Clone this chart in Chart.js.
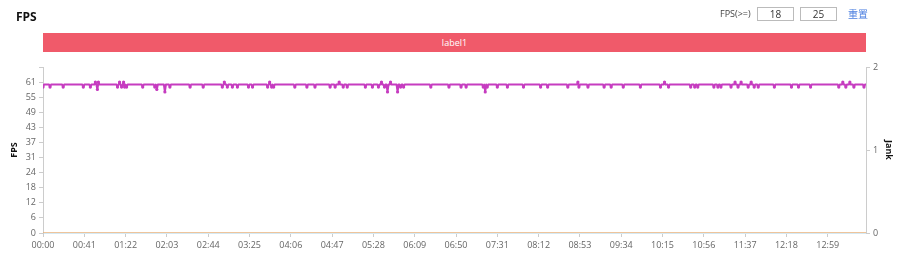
<!DOCTYPE html>
<html><head><meta charset="utf-8">
<script src="https://cdn.jsdelivr.net/npm/chart.js@4.4.0/dist/chart.umd.min.js"></script>
<style>
body{margin:0;background:#fff;font-family:"Open Sans","Noto Sans CJK SC",sans-serif;}
#wrap{position:relative;width:900px;height:254px;overflow:hidden;background:#fff;}
#c{position:absolute;left:0;top:0;}
#title{position:absolute;left:16px;top:9px;font-size:12px;font-weight:bold;color:#111;line-height:16px;}
#bar{position:absolute;left:43px;top:33px;width:823px;height:19px;background:#f05a6a;color:#fff;font-size:9px;line-height:19px;text-align:center;}
#ctrl{position:absolute;left:720px;top:7px;height:14px;font-size:9px;color:#444;}
#ctrl span.l{position:absolute;left:0;top:0;line-height:14px;white-space:nowrap;}
#ctrl .box{position:absolute;top:0;width:35px;height:12px;border:1px solid #bbb;font-size:10px;line-height:12px;text-align:center;color:#333;}
#ctrl a{position:absolute;left:128px;top:0;line-height:14px;color:#4a7ee0;font-size:10px;white-space:nowrap;text-decoration:none;font-family:"Noto Sans CJK SC",sans-serif;}
</style></head>
<body><div id="wrap">
<canvas id="c" width="900" height="254"></canvas>
<div id="title">FPS</div>
<div id="bar">label1</div>
<div id="ctrl"><span class="l">FPS(&gt;=)</span><div class="box" style="left:37px">18</div><div class="box" style="left:80px">25</div><a>重置</a></div>
</div>
<script>
// FPS value per second (index = seconds since start)
const fpsValues = [
59,60,60,60,60,60,60,59,60,60, 60,60,60,60,60,60,60,60,60,60, 59,60,60,60,60,60,60,60,60,60, 60,60,60,60,60,60,60,60,60,60, 59,
60,60,60,60,60,60,59,60,60,60, 60,61,60,58,61,60,60,60,60,60, 60,60,60,60,60,60,60,60,60,60, 60,60,60,59,60,61,60,59,60,61, 59,
60,59,60,60,60,60,60,60,60,60, 60,60,60,60,60,60,60,59,60,60, 60,60,60,60,60,60,60,60,60,59, 60,58,60,60,60,60,60,60,60,57, 60,
60,60,60,59,60,60,60,60,60,60, 60,60,60,60,60,60,60,60,60,60, 60,60,60,59,60,60,60,60,60,60, 60,60,60,60,60,60,59,60,60,60, 60,
60,60,60,60,60,60,60,60,60,60, 60,60,60,60,59,60,61,60,60,59, 60,60,60,60,59,60,60,60,60,59, 60,60,60,60,60,60,60,60,60,60, 59,
60,60,60,59,60,60,60,60,60,60, 60,60,60,60,60,60,60,60,59,60, 61,60,59,60,59,60,60,60,60,60, 60,60,60,60,60,60,60,60,60,60, 60,
60,60,60,60,59,60,60,60,60,60, 60,60,60,60,60,60,59,60,60,60, 60,60,60,60,59,60,60,60,60,60, 60,60,60,60,60,60,60,60,60,59, 60,
60,60,60,59,60,60,60,61,60,60, 60,59,60,60,60,59,60,60,60,60, 60,60,60,60,60,60,60,60,60,60, 60,60,60,59,60,60,60,60,60,60, 59,
60,60,60,60,60,59,60,60,61,60, 60,59,60,60,57,60,60,61,60,60, 60,60,60,60,57,60,60,59,60,60, 59,60,60,60,60,60,60,60,60,60, 60,
60,60,60,60,60,60,60,60,60,60, 60,60,60,60,60,60,59,60,60,60, 60,60,60,60,60,60,60,60,60,60, 60,60,60,60,59,60,60,60,60,60, 60,
60,60,60,60,60,59,60,60,60,60, 59,60,60,60,60,60,60,60,60,60, 60,60,60,60,60,60,60,59,60,57, 60,59,60,60,60,60,60,60,60,60, 60,
59,60,60,60,60,60,60,60,60,60, 59,60,60,60,60,60,60,60,60,60, 60,60,60,60,60,60,59,60,60,60, 60,60,60,60,60,60,60,60,60,60, 60,
60,60,59,60,60,60,60,60,60,59, 60,60,60,60,60,60,60,60,60,60, 60,60,60,60,60,60,60,60,60,59, 60,60,60,60,60,60,60,60,60,61, 59,
60,60,60,60,60,60,60,60,59,60, 60,60,60,60,60,60,60,60,60,60, 60,60,60,60,59,60,60,60,60,60, 60,59,60,60,60,60,60,60,60,60, 60,
60,60,59,60,60,60,60,60,60,60, 60,60,60,60,60,60,60,60,60,59, 60,60,60,60,60,60,60,60,60,60, 60,60,60,60,60,60,60,60,60,59, 60,
60,60,61,60,60,60,59,60,60,60, 60,60,60,60,60,60,60,60,60,60, 60,60,60,60,60,60,60,60,59,60, 60,60,59,60,60,59,60,60,60,60, 60,
60,60,60,60,60,60,60,60,60,60, 59,60,60,60,59,60,60,59,60,60, 60,60,60,60,60,60,60,59,60,60, 60,61,60,60,59,60,60,61,60,60, 60,
60,60,60,59,60,60,61,60,60,59, 60,60,60,59,60,60,60,60,60,60, 60,60,60,60,60,60,60,60,60,59, 60,60,60,60,60,60,60,60,60,60, 60,
60,60,60,60,60,59,60,60,60,60, 60,60,59,60,60,60,60,60,60,60, 60,60,60,60,59,60,60,60,60,60, 60,60,60,60,60,60,60,60,60,60, 60,
60,60,60,60,60,60,60,60,60,60, 60,59,60,60,60,61,60,60,59,60, 60,60,61,60,60,60,59,60,60,60, 60,60,60,60,60,60,59,60,60
];
// Jank (right axis): zero for the whole run
const jankSeconds = [0, 817];
const jankValues = [0, 0];
// x tick labels, one every 41 seconds
const timeTickSeconds = [0,41,82,123,164,205,246,287,328,369,410,451,492,533,574,615,656,697,738,779];
const timeTickLabels = ["00:00","00:41","01:22","02:03","02:44","03:25","04:06","04:47","05:28","06:09","06:50","07:31","08:12","08:53","09:34","10:15","10:56","11:37","12:18","12:59"];
// left axis ticks
const fpsTickValues = [0,6.1,12.2,18.3,24.4,30.5,36.6,42.7,48.8,54.9,61,67.1];
const fpsTickLabels = ["0","6","12","18","24","31","37","43","49","55","61",""];
const jankTickValues = [0,1,2];
const jankTickLabels = ["0","1","2"];

const fpsPoints = fpsValues.map((v,i)=>({x:i,y:v}));
const jankPoints = jankSeconds.map((s,i)=>({x:s,y:jankValues[i]}));

const tickFont = {family:"'Open Sans', sans-serif", size:9};
const axisColor = '#cccccc';
const lineColor = '#c63cc0';

new Chart(document.getElementById('c'), {
  type:'line',
  data:{datasets:[
    {label:'FPS', data:fpsPoints, yAxisID:'y', borderColor:lineColor, borderWidth:2, borderJoinStyle:'round',
      pointRadius:ctx=>(ctx.raw && ctx.raw.y!==60 ? 1.6 : 0), pointBackgroundColor:lineColor, pointBorderWidth:0, tension:0},
    {label:'Jank', data:jankPoints, yAxisID:'y1', borderColor:'#e9b07a', borderWidth:1.5, pointRadius:0, tension:0}
  ]},
  options:{
    responsive:false, animation:false, devicePixelRatio:1,
    layout:{padding:{top:67,left:0,right:0,bottom:0}},
    plugins:{legend:{display:false}, tooltip:{enabled:false}},
    scales:{
      x:{type:'linear', min:0, max:817,
        afterBuildTicks:s=>{s.ticks=timeTickSeconds.map(v=>({value:v}));},
        afterFit:s=>{s.height=21;},
        grid:{display:true, drawOnChartArea:false, drawTicks:true, tickLength:4, color:axisColor},
        border:{display:true, color:'#d6e9f3'},
        ticks:{font:tickFont, color:'#666', padding:3, maxRotation:0, autoSkip:false,
          callback:(v,i)=>timeTickLabels[i]}},
      y:{position:'left', min:0, max:67.1,
        afterBuildTicks:s=>{s.ticks=fpsTickValues.map(v=>({value:v}));},
        afterFit:s=>{s.width=43;},
        title:{display:true, text:'FPS', font:{family:"'Open Sans', sans-serif", size:9, weight:'bold'}, color:'#111', padding:{top:9,bottom:0}},
        grid:{display:true, drawOnChartArea:false, drawTicks:true, tickLength:4, color:axisColor},
        border:{display:true, color:axisColor},
        ticks:{font:tickFont, color:'#666', padding:3, autoSkip:false, callback:(v,i)=>fpsTickLabels[i]}},
      y1:{position:'right', min:0, max:2,
        afterBuildTicks:s=>{s.ticks=jankTickValues.map(v=>({value:v}));},
        afterFit:s=>{s.width=34;},
        title:{display:true, text:'Jank', font:{family:"'Open Sans', sans-serif", size:9, weight:'bold'}, color:'#111', padding:{top:6,bottom:0}},
        grid:{display:true, drawOnChartArea:false, drawTicks:true, tickLength:4, color:axisColor},
        border:{display:true, color:axisColor},
        ticks:{font:tickFont, color:'#666', padding:3, autoSkip:false, callback:(v,i)=>jankTickLabels[i]}}
    }
  }
});
</script>
</body></html>
